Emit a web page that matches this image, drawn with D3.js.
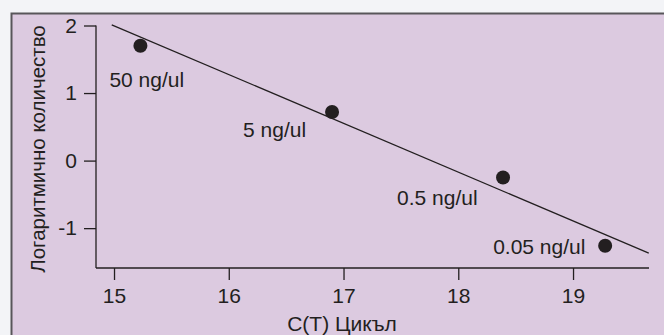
<!DOCTYPE html>
<html>
<head>
<meta charset="utf-8">
<script src="https://cdn.jsdelivr.net/npm/d3@7"></script>
<style>
  html, body { margin: 0; padding: 0; background: #f3f4f7; }
  svg { display: block; }
  text { font-family: "Liberation Sans", Arial, sans-serif; fill: #231f20; }
</style>
</head>
<body>
<script>
// data
const cycles = [15.23, 16.90, 18.39, 19.28];
const logAmount = [1.70, 0.72, -0.25, -1.26];
const pointLabels = ["50 ng/ul", "5 ng/ul", "0.5 ng/ul", "0.05 ng/ul"];
const fitLine = [[14.98, 2.01], [19.66, -1.37]];
const xTicks = [15, 16, 17, 18, 19];
const yTicks = [2, 1, 0, -1];
const xTitle = "C(T) Цикъл";
const yTitle = "Логаритмично количество";

const width = 664, height = 335;
const margin = { top: 25.5, right: 15, bottom: 67, left: 96 };
const fontSize = "21px";

const svg = d3.select("body").append("svg")
  .attr("width", width)
  .attr("height", height);

// panel
svg.append("rect")
  .attr("x", 11).attr("y", 13)
  .attr("width", width - 11).attr("height", height - 13)
  .attr("fill", "#dccae0");
svg.append("path")
  .attr("d", `M11.5,${height}V13.5H${width}`)
  .attr("fill", "none")
  .attr("stroke", "#58565a")
  .attr("stroke-width", 2);

const x = d3.scaleLinear()
  .domain([14.843, 19.662])
  .range([margin.left, width - margin.right]);
const y = d3.scaleLinear()
  .domain([-1.59, 2])
  .range([height - margin.bottom, margin.top]);

const g = svg.append("g");

// x axis
const xAxis = g.append("g")
  .attr("transform", `translate(0,${y.range()[0]})`)
  .call(d3.axisBottom(x).tickValues(xTicks).tickFormat(d => String(d))
    .tickSizeInner(12).tickSizeOuter(0).tickPadding(8));

// y axis
const yAxis = g.append("g")
  .attr("transform", `translate(${margin.left},0)`)
  .call(d3.axisLeft(y).tickValues(yTicks).tickFormat(d => String(d))
    .tickSizeInner(12).tickSizeOuter(0).tickPadding(7));

[xAxis, yAxis].forEach(a => {
  a.select(".domain").attr("stroke", "#231f20").attr("stroke-width", 1.3);
  a.selectAll(".tick line").attr("stroke", "#231f20").attr("stroke-width", 1.3);
  a.selectAll(".tick text")
    .style("font-family", "'Liberation Sans', Arial, sans-serif")
    .style("font-size", fontSize)
    .attr("fill", "#231f20");
});
// y axis starts exactly at the top tick, x axis at the y axis
yAxis.select(".domain").attr("d", `M0,${y(2)}V${y.range()[0]}`);
xAxis.select(".domain").attr("d", `M${x.range()[0]},0H${x.range()[1]}`);

// regression line
g.append("line")
  .attr("x1", x(fitLine[0][0])).attr("y1", y(fitLine[0][1]))
  .attr("x2", x(fitLine[1][0])).attr("y2", y(fitLine[1][1]))
  .attr("stroke", "#231f20")
  .attr("stroke-width", 1.3);

// points
g.selectAll("circle.pt")
  .data(cycles)
  .join("circle")
  .attr("class", "pt")
  .attr("cx", d => x(d))
  .attr("cy", (d, i) => y(logAmount[i]))
  .attr("r", 7)
  .attr("fill", "#231f20");

// point labels, placed below-left of each point
const labelOffsets = [[-31, 41], [-89, 25], [-106, 28], [-112, 8]];
g.selectAll("text.pl")
  .data(pointLabels)
  .join("text")
  .attr("class", "pl")
  .attr("x", (d, i) => x(cycles[i]) + labelOffsets[i][0])
  .attr("y", (d, i) => y(logAmount[i]) + labelOffsets[i][1])
  .style("font-size", fontSize)
  .text(d => d);

// titles
svg.append("text")
  .attr("x", 342)
  .attr("y", 331)
  .attr("text-anchor", "middle")
  .style("font-size", fontSize)
  .text(xTitle);

svg.append("text")
  .attr("transform", `translate(45,149) rotate(-90)`)
  .attr("text-anchor", "middle")
  .style("font-size", "20.5px")
  .text(yTitle);
</script>
</body>
</html>
